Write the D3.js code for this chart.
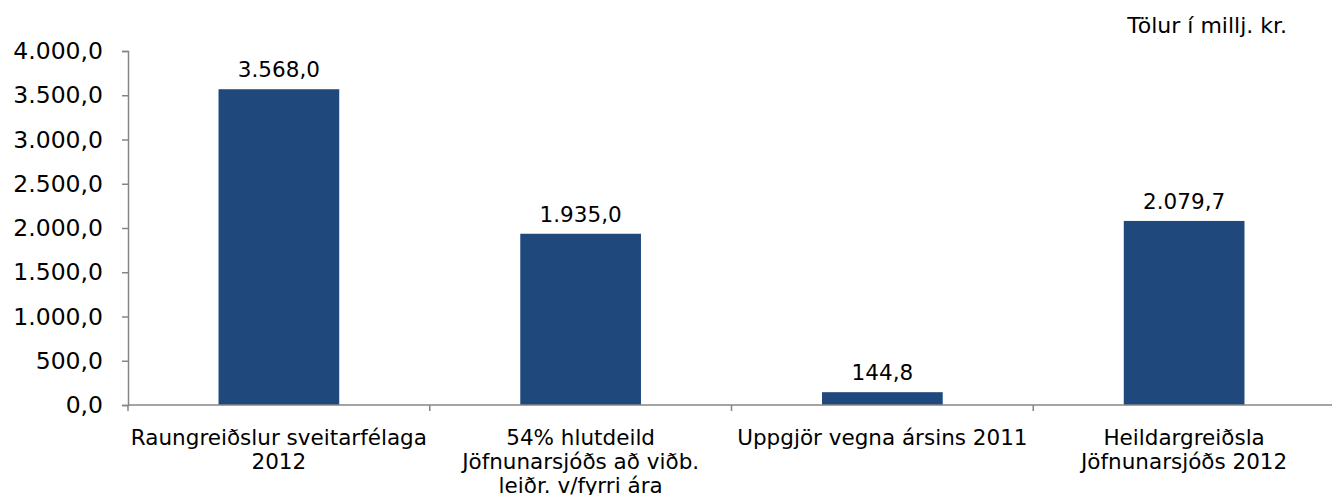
<!DOCTYPE html>
<html lang="is">
<head>
<meta charset="UTF-8">
<title>Jöfnunarsjóður</title>
<style>
  body { margin: 0; background: #fff; }
  svg { display: block; font-family: "DejaVu Sans", Verdana, sans-serif; }
</style>
</head>
<body>
<svg id="svg" width="1332" height="495"></svg>
<script src="https://d3js.org/d3.v7.min.js"></script>
<script>
  // gögn
  const categories = [
    ["Raungreiðslur sveitarfélaga", "2012"],
    ["54% hlutdeild", "Jöfnunarsjóðs að viðb.", "leiðr. v/fyrri ára"],
    ["Uppgjör vegna ársins 2011"],
    ["Heildargreiðsla", "Jöfnunarsjóðs 2012"]
  ]
  const values = [3568.0, 1935.0, 144.8, 2079.7]
  const yTicks = [0, 500, 1000, 1500, 2000, 2500, 3000, 3500, 4000]
  const unitLabel = "Tölur í millj. kr."

  const svg = d3.select("svg#svg")
  const margin = { top: 51, left: 128, right: -3, bottom: 90 }
  const width = +svg.attr("width")
  const height = +svg.attr("height")
  const innerWidth = width - margin.left - margin.right
  const innerHeight = height - margin.top - margin.bottom

  const fmt = d3.formatLocale({ decimal: ",", thousands: ".", grouping: [3], currency: ["", " kr."] }).format(",.1f")

  const idx = d3.range(values.length)
  const xScale = d3.scaleBand().domain(idx).range([0, innerWidth]).padding(0)
  const yScale = d3.scaleLinear().domain([0, 4000]).range([innerHeight, 0])

  const g = svg.append("g").attr("transform", `translate(${margin.left},${margin.top})`)
  const axisColor = "#868686"

  // y ás
  const yAxis = d3.axisLeft(yScale).tickValues(yTicks).tickFormat(fmt).tickSize(6).tickPadding(19)
  g.append("g").attr("class", "yAxis").call(yAxis)
    .call(s => s.select(".domain").attr("stroke", axisColor).attr("stroke-width", 1.5))
    .call(s => s.selectAll(".tick line").attr("stroke", axisColor).attr("stroke-width", 1.5))
    .call(s => s.selectAll(".tick text").attr("font-size", 23.5).attr("fill", "#000").attr("font-family", "DejaVu Sans"))

  // súlur
  const bw = xScale.bandwidth() * 0.4
  g.selectAll("rect.bar").data(values).join("rect")
    .attr("class", "bar")
    .attr("x", (d, i) => xScale(i) + (xScale.bandwidth() - bw) / 2)
    .attr("y", d => yScale(d))
    .attr("width", bw)
    .attr("height", d => innerHeight - yScale(d))
    .attr("fill", "#1F497D")

  g.selectAll("text.val").data(values).join("text")
    .attr("class", "val")
    .attr("x", (d, i) => xScale(i) + xScale.bandwidth() / 2)
    .attr("y", d => yScale(d) - 12)
    .attr("text-anchor", "middle")
    .attr("font-size", 21.5)
    .attr("fill", "#000")
    .text(d => fmt(d))

  // x ás
  const xg = g.append("g").attr("transform", `translate(0,${innerHeight})`)
  xg.append("line").attr("x1", 0).attr("x2", innerWidth)
    .attr("stroke", axisColor).attr("stroke-width", 1.5)
  const bounds = idx.map(i => xScale(i)).concat([innerWidth])
  xg.selectAll("line.tk").data(bounds).join("line")
    .attr("class", "tk")
    .attr("x1", d => d).attr("x2", d => d)
    .attr("y1", 0).attr("y2", 6)
    .attr("stroke", axisColor).attr("stroke-width", 1.5)

  const labels = xg.selectAll("text.cat").data(categories).join("text")
    .attr("class", "cat")
    .attr("text-anchor", "middle")
    .attr("font-size", 21.5)
    .attr("fill", "#000")
    .attr("transform", (d, i) => `translate(${xScale(i) + xScale.bandwidth() / 2},40)`)
  labels.selectAll("tspan").data(d => d).join("tspan")
    .attr("x", 0)
    .attr("y", (d, j) => j * 24)
    .text(d => d)

  svg.append("text")
    .attr("x", 1287).attr("y", 33)
    .attr("text-anchor", "end")
    .attr("font-size", 22)
    .attr("fill", "#000")
    .text(unitLabel)
</script>
</body>
</html>
